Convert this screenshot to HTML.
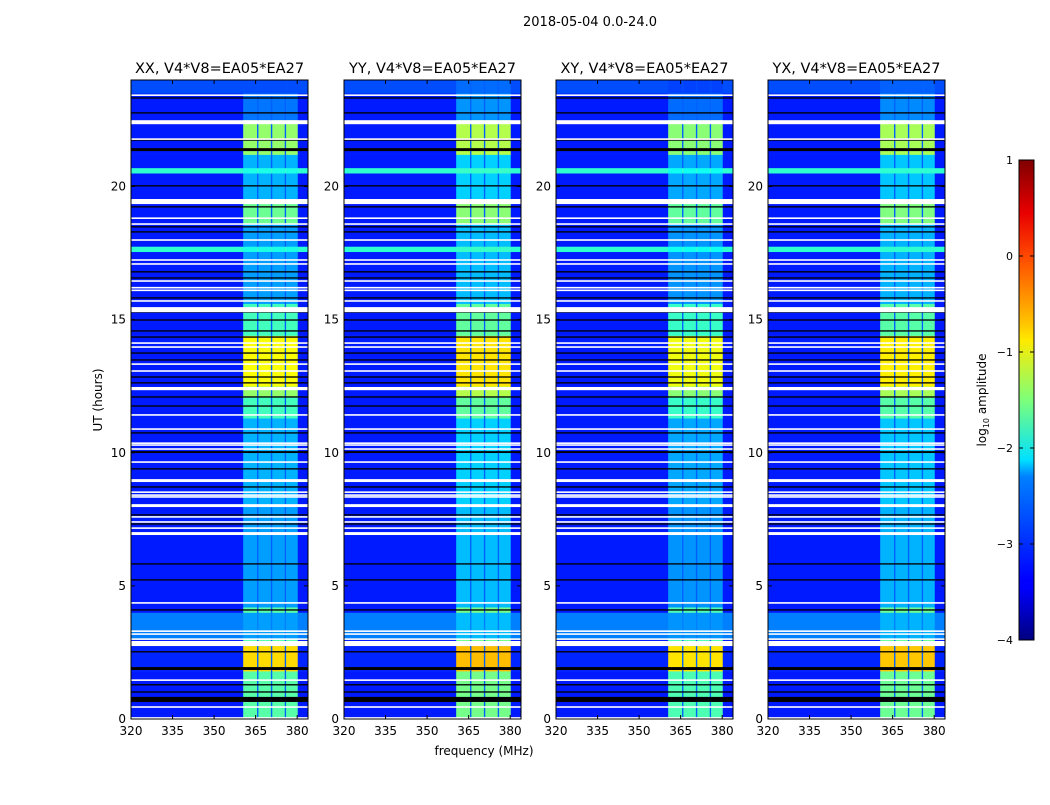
<!DOCTYPE html>
<html><head><meta charset="utf-8"><style>
body{margin:0;background:#fff;}
svg text{font-family:"DejaVu Sans","Liberation Sans",sans-serif;fill:#000;}
</style></head><body>
<svg id="fig" width="1050" height="800" xmlns="http://www.w3.org/2000/svg">
<defs>
<linearGradient id="jet" x1="0" y1="1" x2="0" y2="0">
<stop offset="0" stop-color="#00007f"/><stop offset="0.11" stop-color="#0000ff"/>
<stop offset="0.125" stop-color="#0000ff"/><stop offset="0.34" stop-color="#0080ff"/>
<stop offset="0.375" stop-color="#00e0ff"/><stop offset="0.5" stop-color="#7dff7a"/>
<stop offset="0.625" stop-color="#ffea00"/><stop offset="0.66" stop-color="#ffc400"/>
<stop offset="0.8" stop-color="#ff4800"/><stop offset="0.89" stop-color="#e80000"/>
<stop offset="1" stop-color="#7f0000"/>
</linearGradient>
</defs>
<text x="590" y="26" font-size="13" text-anchor="middle">2018-05-04 0.0-24.0</text>
<text x="484" y="755" font-size="12" text-anchor="middle">frequency (MHz)</text>
<text transform="translate(102,400) rotate(-90)" font-size="12" text-anchor="middle">UT (hours)</text>
<g id="panels"></g>
<g>
<rect x="1019" y="160" width="15" height="480" fill="url(#jet)" stroke="#000" stroke-width="1"/>
<g id="cbticks"></g>
<text transform="translate(986,400) rotate(-90)" font-size="12" text-anchor="middle">log<tspan font-size="8" dy="3">10</tspan><tspan dy="-3"> amplitude</tspan></text>
</g>
</svg>
<script>
// ---- data ----
const panelTitles = ["XX, V4*V8=EA05*EA27","YY, V4*V8=EA05*EA27","XY, V4*V8=EA05*EA27","YX, V4*V8=EA05*EA27"];
const panelBandOffset = [0, 0.15, -0.05, 0.1];
// time rows (hours): start, end, background log10 amplitude, RFI-band log10 amplitude
const rowStart = [0, 1.8, 2.75, 3.0, 4.0, 4.2, 8.0, 9.0, 11.3, 12.1, 12.5, 14.4, 15.6, 17.55, 17.75, 18.6, 19.5, 20.5, 20.7, 21.2, 22.5, 23.5];
const rowEnd   = [1.8, 2.75, 3.0, 4.0, 4.2, 8.0, 9.0, 11.3, 12.1, 12.5, 14.4, 15.6, 17.55, 17.75, 18.6, 19.5, 20.5, 20.7, 21.2, 22.5, 23.5, 24];
const rowBg    = [-3.25, -3.2, -3.25, -2.75, -3.25, -3.25, -3.25, -3.25, -3.25, -3.25, -3.25, -3.25, -3.25, -1.9, -3.25, -3.25, -3.25, -1.9, -3.25, -3.25, -3.25, -3.0];
const rowBand  = [-1.7, -0.7, -1.7, -2.6, -1.7, -2.6, -2.5, -2.5, -1.8, -1.4, -0.9, -1.8, -2.6, -2.0, -2.6, -1.6, -2.5, -2.0, -2.5, -1.4, -2.8, -3.0];
// sub-band edges (MHz)
const bandLo = [360.5, 366, 371, 376];
const bandHi = [365.5, 370.5, 375.5, 380.2];
const gapLevel = -2.9;
// flagged (white) rows in hours
const flagStart = [23.4,22.34,21.75,19.34,18.78,18.56,17.96,17.21,17.06,16.42,16.17,16.07,15.67,15.28,14.09,13.94,13.30,13.04,12.35,11.39,10.86,10.33,10.26,10.11,9.62,8.90,8.49,8.38,8.31,7.96,7.56,7.37,7.14,6.91,4.33,3.27,3.16,2.97,2.74,1.43,0.42,0.01];
const flagEnd   = [23.46,22.49,21.81,19.53,18.84,18.62,18.02,17.27,17.12,16.48,16.23,16.13,15.73,15.47,14.15,14.0,13.36,13.1,12.47,11.45,10.92,10.39,10.32,10.17,9.68,9.01,8.55,8.44,8.37,8.07,7.62,7.43,7.2,7.02,4.39,3.33,3.22,3.03,2.93,1.49,0.48,0.07];
// dark (zero) rows in hours
const darkStart = [23.30,22.74,21.72,21.33,20.0,19.21,18.46,18.27,16.77,16.54,15.79,15.26,14.96,14.55,14.32,13.72,13.46,12.82,12.60,12.07,11.73,10.72,9.99,9.37,8.69,7.64,7.30,5.80,5.20,4.07,2.50,1.84,1.26,0.99,0.64];
const darkEnd   = [23.35,22.79,21.77,21.44,20.05,19.26,18.51,18.32,16.82,16.59,15.84,15.31,15.01,14.60,14.37,13.77,13.51,12.87,12.65,12.12,11.78,10.77,10.06,9.42,8.74,7.69,7.35,5.85,5.25,4.12,2.55,1.95,1.31,1.04,0.83];
const xTicks = [320, 335, 350, 365, 380];
const yTicks = [0, 5, 10, 15, 20];
const cbTicks = [-4, -3, -2, -1, 0, 1];

// ---- scales ----
const panelX = [131, 344, 556, 768];
const panelW = 177, plotTop = 80, plotBot = 719;
const fMin = 320, fMax = 383.9, tMin = 0, tMax = 24;
const xs = (i, f) => panelX[i] + (f - fMin) / (fMax - fMin) * panelW;
const ys = h => plotBot - (h - tMin) / (tMax - tMin) * (plotBot - plotTop);
const cbY = v => 640 - (v + 4) / 5 * 480;
function jet(v){
  const t = Math.max(0, Math.min(1, (v + 4) / 5));
  const c = x => Math.round(255 * Math.max(0, Math.min(1, x)));
  return `rgb(${c(1.5-Math.abs(4*t-3))},${c(1.5-Math.abs(4*t-2))},${c(1.5-Math.abs(4*t-1))})`;
}
const NS = "http://www.w3.org/2000/svg";
function mk(tag, attrs, parent){
  const e = document.createElementNS(NS, tag);
  for (const k in attrs) e.setAttribute(k, attrs[k]);
  parent.appendChild(e); return e;
}
const root = document.getElementById("panels");
panelTitles.forEach((title, p) => {
  const g = mk("g", {}, root);
  
  
  const segLo = [fMin], segHi = [bandLo[0]], segBand = [null];
  for (let k = 0; k < bandLo.length; k++){
    segLo.push(bandLo[k]); segHi.push(bandHi[k]); segBand.push(true);
    const next = k + 1 < bandLo.length ? bandLo[k+1] : fMax;
    segLo.push(bandHi[k]); segHi.push(next); segBand.push(k + 1 < bandLo.length ? false : null);
  }
  for (let r = 0; r < rowStart.length; r++){
    for (let s = 0; s < segLo.length; s++){
      let v;
      if (segBand[s] === true) v = rowBand[r] + panelBandOffset[p];
      else if (segBand[s] === false) v = Math.max(rowBg[r], Math.min(gapLevel, rowBand[r] + panelBandOffset[p]));
      else v = rowBg[r];
      const y0 = ys(rowEnd[r]), y1 = ys(rowStart[r]);
      const x0 = xs(p, segLo[s]), x1 = xs(p, segHi[s]);
      const c = mk("rect", {x:x0, y:y0, width:x1-x0+0.3, height:y1-y0+0.3, fill:jet(v)}, g);
      
      
    }
  }
  for (let i = 0; i < darkStart.length; i++){
    const e = mk("rect", {x:panelX[p], y:ys(darkEnd[i]), width:panelW, height:Math.max(1, ys(darkStart[i])-ys(darkEnd[i])), fill:"#000"}, g);
    
    
  }
  for (let i = 0; i < flagStart.length; i++){
    const e = mk("rect", {x:panelX[p], y:ys(flagEnd[i]), width:panelW, height:Math.max(1.5, ys(flagStart[i])-ys(flagEnd[i])), fill:"#fff"}, g);
    
    
  }
  const fr = mk("rect", {x:panelX[p], y:plotTop, width:panelW, height:plotBot-plotTop, fill:"none", stroke:"#000", "stroke-width":1}, g);
  
  
  const tt = mk("text", {x:panelX[p]+panelW/2, y:73, "font-size":14.5, "text-anchor":"middle"}, g);
  tt.textContent = title;
  
  
  xTicks.forEach(f => {
    const x = xs(p, f);
    mk("line", {x1:x, x2:x, y1:plotBot, y2:plotBot-4, stroke:"#000"}, g);
    mk("line", {x1:x, x2:x, y1:plotTop, y2:plotTop+4, stroke:"#000"}, g);
    const t = mk("text", {x:x, y:plotBot+16, "font-size":12, "text-anchor":"middle"}, g);
    t.textContent = f;
    
    
  });
  yTicks.forEach(h => {
    const y = ys(h);
    mk("line", {x1:panelX[p], x2:panelX[p]+4, y1:y, y2:y, stroke:"#000"}, g);
    mk("line", {x1:panelX[p]+panelW, x2:panelX[p]+panelW-4, y1:y, y2:y, stroke:"#000"}, g);
    const t = mk("text", {x:panelX[p]-5, y:y+4, "font-size":12, "text-anchor":"end"}, g);
    t.textContent = h;
    
    
  });
});
const cbg = document.getElementById("cbticks");
cbTicks.forEach(v => {
  const y = cbY(v);
  mk("line", {x1:1019, x2:1023, y1:y, y2:y, stroke:"#000"}, cbg);
  mk("line", {x1:1034, x2:1030, y1:y, y2:y, stroke:"#000"}, cbg);
  const t = mk("text", {x:1013, y:y+4, "font-size":11, "text-anchor":"end"}, cbg);
  t.textContent = v < 0 ? "\u2212" + Math.abs(v) : v;
  
  
});
</script>
</body></html>
